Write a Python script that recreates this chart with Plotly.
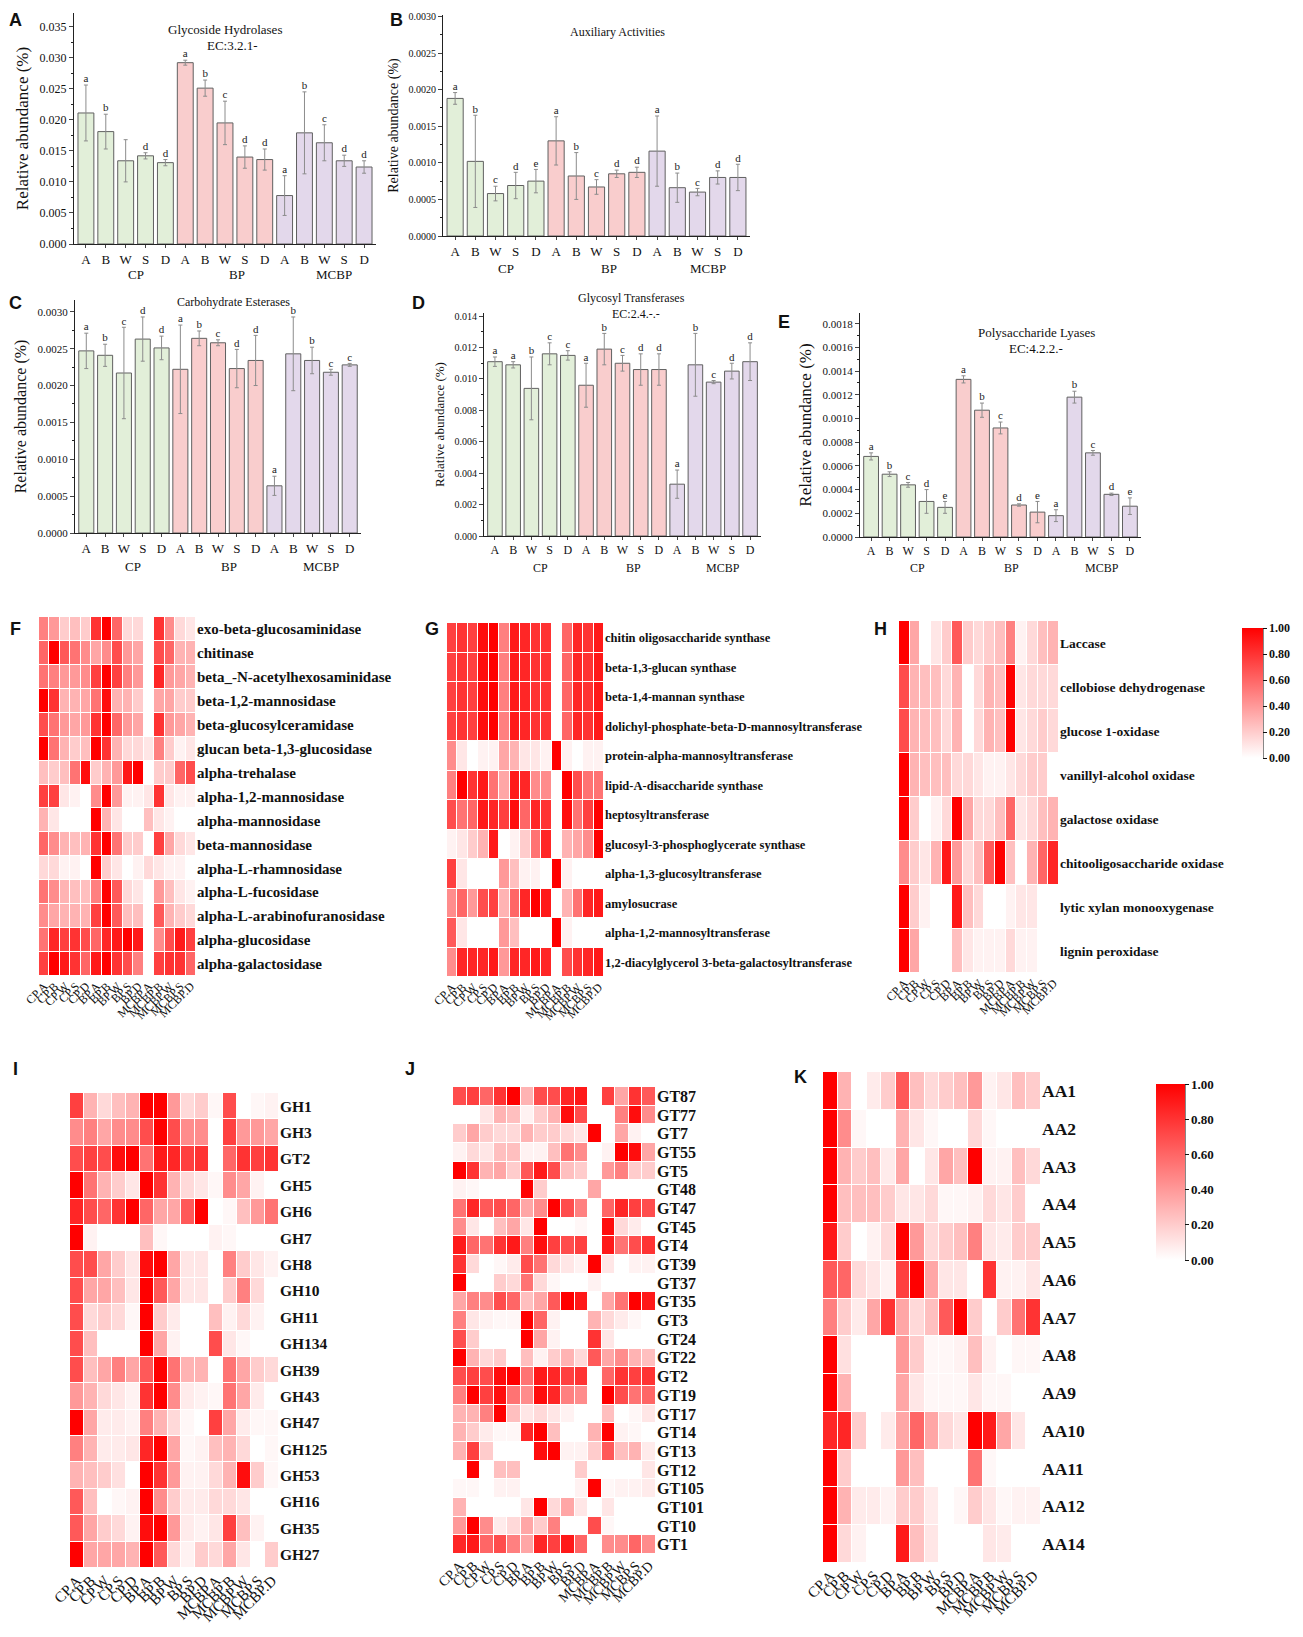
import plotly.graph_objects as go

W, H = 1303, 1637
OFF = 8  # the page body adds an 8 px margin around the figure
SERIF = "Liberation Serif, Times New Roman, serif"
SANS = "Liberation Sans, Arial, sans-serif"

# ---------------- bar chart data ----------------
samples = ["A", "B", "W", "S", "D"] * 3
groups = ["CP", "BP", "MCBP"]
group_pos = [2.5, 7.6, 12.5]
bar_colors = ["#e2efd9"] * 5 + ["#f9cdcd"] * 5 + ["#e3d8eb"] * 5

gh_mean = [0.0211, 0.0181, 0.0134, 0.0142, 0.0131, 0.0292, 0.0251, 0.0195, 0.0140, 0.0136,
           0.0078, 0.0179, 0.0163, 0.0134, 0.0124]
gh_err = [0.0045, 0.0028, 0.0034, 0.0005, 0.0005, 0.0004, 0.0013, 0.0035, 0.0018, 0.0017,
          0.0032, 0.0066, 0.0029, 0.0009, 0.0010]
gh_sig = ["a", "b", "", "d", "d", "a", "b", "c", "d", "d", "a", "b", "c", "d", "d"]

aa_mean = [0.00188, 0.00102, 0.00058, 0.00069, 0.00075, 0.00130, 0.00082, 0.00067, 0.00085, 0.00087,
           0.00116, 0.00066, 0.00060, 0.00080, 0.00080]
aa_err = [0.00008, 0.00063, 0.00010, 0.00018, 0.00016, 0.00033, 0.00032, 0.00010, 0.00005, 0.00007,
          0.00048, 0.00020, 0.00005, 0.00009, 0.00018]
aa_sig = ["a", "b", "c", "d", "e", "a", "b", "c", "d", "d", "a", "b", "c", "d", "d"]

ce_mean = [0.00247, 0.00241, 0.00217, 0.00263, 0.00251, 0.00222, 0.00264, 0.00258, 0.00223, 0.00234,
           0.00064, 0.00243, 0.00234, 0.00218, 0.00228]
ce_err = [0.00024, 0.00015, 0.00062, 0.00030, 0.00016, 0.00060, 0.00010, 0.00004, 0.00026, 0.00034,
          0.00013, 0.00050, 0.00018, 0.00004, 0.00002]
ce_sig = ["a", "b", "c", "d", "d", "a", "b", "c", "d", "d", "a", "b", "b", "c", "c"]

gt_mean = [0.0111, 0.0109, 0.0094, 0.0116, 0.0115, 0.0096, 0.0119, 0.0110, 0.0106, 0.0106,
           0.0033, 0.0109, 0.0098, 0.0105, 0.0111]
gt_err = [0.0003, 0.0002, 0.0020, 0.0007, 0.0003, 0.0014, 0.0010, 0.0005, 0.0010, 0.0010,
          0.0009, 0.0020, 0.0001, 0.0005, 0.0012]
gt_sig = ["a", "a", "b", "c", "c", "a", "b", "c", "d", "d", "a", "b", "c", "d", "d"]

pl_mean = [0.00068, 0.00053, 0.00044, 0.00030, 0.00025, 0.00133, 0.00107, 0.00092, 0.00027, 0.00021,
           0.00018, 0.00118, 0.00071, 0.00036, 0.00026]
pl_err = [0.00003, 0.00002, 0.00002, 0.00010, 0.00005, 0.00003, 0.00006, 0.00005, 0.00001, 0.00009,
          0.00005, 0.00005, 0.00002, 0.00001, 0.00007]
pl_sig = ["a", "b", "c", "d", "e", "a", "b", "c", "d", "e", "a", "b", "c", "d", "e"]

# ---------------- heatmap data ----------------
cols = ["CP.A", "CP.B", "CP.W", "CP.S", "CP.D", "BP.A", "BP.B", "BP.W", "BP.S", "BP.D",
        "MCBP.A", "MCBP.B", "MCBP.W", "MCBP.S", "MCBP.D"]

f_rows = ["exo-beta-glucosaminidase", "chitinase", "beta_-N-acetylhexosaminidase", "beta-1,2-mannosidase",
          "beta-glucosylceramidase", "glucan beta-1,3-glucosidase", "alpha-trehalase", "alpha-1,2-mannosidase",
          "alpha-mannosidase", "beta-mannosidase", "alpha-L-rhamnosidase", "alpha-L-fucosidase",
          "alpha-L-arabinofuranosidase", "alpha-glucosidase", "alpha-galactosidase"]
f_z = [
    [0.5, 0.4, 0.2, 0.25, 0.2, 0.8, 1.0, 0.6, 0.15, 0.15, 0.0, 0.8, 0.45, 0.15, 0.1],
    [0.6, 1.0, 0.65, 0.55, 0.45, 0.35, 0.45, 0.7, 0.4, 0.35, 0.0, 0.7, 0.6, 0.3, 0.3],
    [0.55, 0.5, 0.4, 0.4, 0.45, 0.75, 1.0, 0.75, 0.5, 0.4, 0.0, 0.85, 0.4, 0.35, 0.3],
    [1.0, 0.8, 0.3, 0.3, 0.35, 0.55, 0.95, 0.3, 0.3, 0.2, 0.0, 0.35, 0.35, 0.2, 0.2],
    [0.7, 0.55, 0.4, 0.35, 0.4, 0.8, 1.0, 0.6, 0.4, 0.35, 0.0, 0.8, 0.4, 0.35, 0.3],
    [1.0, 0.55, 0.3, 0.2, 0.25, 1.0, 0.8, 0.3, 0.15, 0.15, 0.1, 0.5, 0.2, 0.05, 0.1],
    [0.25, 0.2, 0.25, 0.55, 0.95, 0.2, 0.3, 0.4, 0.9, 1.0, 0.0, 0.2, 0.2, 0.6, 0.7],
    [0.75, 0.75, 0.1, 0.05, 0.0, 0.45, 1.0, 0.4, 0.05, 0.05, 0.1, 0.8, 0.1, 0.05, 0.05],
    [0.3, 0.1, 0.0, 0.0, 0.0, 1.0, 0.3, 0.1, 0.0, 0.0, 0.25, 0.1, 0.05, 0.0, 0.0],
    [0.6, 0.45, 0.3, 0.25, 0.3, 0.8, 1.0, 0.55, 0.2, 0.2, 0.0, 0.75, 0.35, 0.15, 0.1],
    [0.15, 0.15, 0.05, 0.05, 0.0, 1.0, 0.2, 0.1, 0.0, 0.05, 0.15, 0.1, 0.05, 0.05, 0.0],
    [0.55, 0.45, 0.3, 0.25, 0.25, 0.5, 1.0, 0.65, 0.15, 0.1, 0.0, 0.4, 0.25, 0.1, 0.05],
    [0.45, 0.35, 0.3, 0.3, 0.3, 0.75, 1.0, 0.65, 0.25, 0.25, 0.0, 0.65, 0.3, 0.2, 0.15],
    [0.55, 0.85, 0.75, 0.8, 0.7, 0.6, 0.85, 0.9, 1.0, 0.9, 0.0, 0.45, 0.7, 0.9, 0.75],
    [0.75, 1.0, 0.9, 0.8, 0.6, 0.9, 1.0, 0.8, 0.7, 0.5, 0.0, 0.75, 0.8, 0.8, 0.6],
]

g_rows = ["chitin oligosaccharide synthase", "beta-1,3-glucan synthase", "beta-1,4-mannan synthase",
          "dolichyl-phosphate-beta-D-mannosyltransferase", "protein-alpha-mannosyltransferase",
          "lipid-A-disaccharide synthase", "heptosyltransferase", "glucosyl-3-phosphoglycerate synthase",
          "alpha-1,3-glucosyltransferase", "amylosucrase", "alpha-1,2-mannosyltransferase",
          "1,2-diacylglycerol 3-beta-galactosyltransferase"]
g_z = [
    [0.75, 0.8, 0.75, 0.95, 1.0, 0.5, 0.9, 0.85, 0.8, 0.8, 0.0, 0.6, 0.85, 0.8, 0.9],
    [0.75, 0.8, 0.75, 0.95, 1.0, 0.5, 0.9, 0.85, 0.8, 0.8, 0.0, 0.6, 0.85, 0.8, 0.9],
    [0.75, 0.8, 0.75, 0.95, 1.0, 0.5, 0.9, 0.85, 0.8, 0.8, 0.0, 0.6, 0.85, 0.8, 0.9],
    [0.75, 0.8, 0.75, 0.95, 1.0, 0.5, 0.9, 0.85, 0.8, 0.8, 0.0, 0.6, 0.85, 0.8, 0.9],
    [0.45, 0.1, 0.0, 0.05, 0.05, 0.35, 0.3, 0.1, 0.1, 0.05, 1.0, 0.05, 0.0, 0.05, 0.05],
    [0.5, 1.0, 0.8, 0.9, 0.55, 0.35, 0.9, 0.85, 0.45, 0.45, 0.0, 1.0, 0.7, 0.55, 0.55],
    [0.7, 0.55, 0.6, 0.9, 0.85, 0.75, 0.95, 0.6, 0.85, 0.8, 0.0, 0.95, 0.55, 0.75, 1.0],
    [0.05, 0.1, 0.2, 0.3, 0.9, 0.0, 0.05, 0.2, 0.55, 0.85, 0.0, 0.3, 0.35, 0.45, 1.0],
    [0.75, 0.1, 0.0, 0.0, 0.0, 0.4, 0.25, 0.05, 0.05, 0.0, 1.0, 0.05, 0.0, 0.0, 0.0],
    [0.45, 0.6, 0.4, 0.7, 0.75, 0.3, 0.6, 0.85, 1.0, 0.9, 0.0, 0.3, 0.55, 0.85, 0.9],
    [0.65, 0.1, 0.0, 0.0, 0.0, 0.4, 0.25, 0.0, 0.0, 0.0, 1.0, 0.05, 0.0, 0.0, 0.0],
    [0.45, 0.85, 0.85, 0.85, 0.9, 0.4, 0.85, 0.85, 0.9, 0.85, 0.0, 0.7, 0.8, 0.85, 0.9],
]

h_rows = ["Laccase", "cellobiose dehydrogenase", "glucose 1-oxidase", "vanillyl-alcohol oxidase",
          "galactose oxidase", "chitooligosaccharide oxidase", "lytic xylan monooxygenase", "lignin peroxidase"]
h_z = [
    [1.0, 0.35, 0.0, 0.1, 0.2, 0.65, 0.2, 0.15, 0.2, 0.25, 0.5, 0.05, 0.15, 0.25, 0.3],
    [0.7, 0.3, 0.25, 0.25, 0.15, 0.3, 0.0, 0.15, 0.3, 0.25, 1.0, 0.1, 0.15, 0.15, 0.15],
    [0.7, 0.3, 0.25, 0.25, 0.15, 0.3, 0.0, 0.15, 0.3, 0.25, 1.0, 0.1, 0.15, 0.2, 0.15],
    [1.0, 0.3, 0.25, 0.25, 0.25, 0.15, 0.15, 0.1, 0.05, 0.05, 0.1, 0.15, 0.2, 0.2, 0.0],
    [1.0, 0.2, 0.0, 0.05, 0.15, 1.0, 0.35, 0.15, 0.15, 0.25, 0.6, 0.1, 0.15, 0.25, 0.3],
    [0.45, 0.2, 0.1, 0.3, 0.9, 0.4, 0.15, 0.25, 0.65, 1.0, 0.25, 0.0, 0.3, 0.6, 0.85],
    [1.0, 0.2, 0.05, 0.0, 0.0, 0.9, 0.25, 0.15, 0.0, 0.0, 0.05, 0.1, 0.1, 0.0, 0.0],
    [1.0, 0.35, 0.0, 0.0, 0.0, 0.25, 0.1, 0.05, 0.05, 0.05, 0.15, 0.05, 0.05, 0.0, 0.0],
]

i_rows = ["GH1", "GH3", "GT2", "GH5", "GH6", "GH7", "GH8", "GH10", "GH11", "GH134", "GH39", "GH43",
          "GH47", "GH125", "GH53", "GH16", "GH35", "GH27"]
i_z = [
    [0.75, 0.3, 0.15, 0.25, 0.3, 1.0, 1.0, 0.4, 0.15, 0.2, 0.03, 0.7, 0.0, 0.03, 0.05],
    [0.45, 0.5, 0.35, 0.45, 0.45, 0.7, 1.0, 0.7, 0.45, 0.45, 0.0, 0.75, 0.4, 0.4, 0.35],
    [0.7, 0.75, 0.7, 0.95, 1.0, 0.55, 0.9, 0.85, 0.75, 0.8, 0.0, 0.6, 0.8, 0.75, 0.8],
    [1.0, 0.55, 0.3, 0.2, 0.1, 1.0, 0.8, 0.3, 0.15, 0.1, 0.03, 0.45, 0.35, 0.05, 0.0],
    [0.85, 0.7, 0.6, 0.8, 1.0, 0.6, 0.35, 0.35, 0.65, 1.0, 0.0, 0.03, 0.25, 0.4, 0.55],
    [1.0, 0.05, 0.0, 0.0, 0.0, 0.25, 0.03, 0.0, 0.0, 0.0, 0.05, 0.03, 0.0, 0.0, 0.0],
    [0.7, 0.7, 0.35, 0.2, 0.1, 0.95, 1.0, 0.35, 0.1, 0.1, 0.0, 0.5, 0.2, 0.1, 0.05],
    [0.7, 0.35, 0.35, 0.25, 0.1, 1.0, 0.65, 0.35, 0.1, 0.1, 0.0, 0.2, 0.5, 0.15, 0.0],
    [0.7, 0.15, 0.2, 0.15, 0.03, 1.0, 0.2, 0.08, 0.0, 0.0, 0.25, 0.05, 0.15, 0.05, 0.0],
    [0.7, 0.25, 0.0, 0.0, 0.0, 1.0, 0.35, 0.05, 0.0, 0.0, 0.7, 0.1, 0.03, 0.0, 0.0],
    [0.7, 0.25, 0.35, 0.5, 0.35, 0.65, 1.0, 0.55, 0.3, 0.3, 0.0, 0.55, 0.35, 0.2, 0.15],
    [0.4, 0.3, 0.15, 0.1, 0.05, 0.8, 1.0, 0.45, 0.08, 0.05, 0.03, 0.55, 0.35, 0.08, 0.0],
    [1.0, 0.35, 0.08, 0.08, 0.05, 0.5, 0.3, 0.15, 0.03, 0.0, 0.75, 0.35, 0.08, 0.03, 0.03],
    [0.5, 0.3, 0.08, 0.08, 0.1, 0.85, 1.0, 0.35, 0.03, 0.05, 0.25, 0.3, 0.15, 0.0, 0.03],
    [0.3, 0.25, 0.2, 0.12, 0.0, 1.0, 0.8, 0.4, 0.05, 0.05, 0.15, 0.3, 0.95, 0.2, 0.03],
    [0.65, 0.25, 0.0, 0.03, 0.05, 1.0, 0.45, 0.2, 0.08, 0.08, 0.15, 0.15, 0.1, 0.0, 0.0],
    [0.65, 0.35, 0.2, 0.15, 0.05, 0.95, 1.0, 0.4, 0.08, 0.05, 0.1, 0.75, 0.25, 0.05, 0.0],
    [1.0, 0.35, 0.35, 0.35, 0.3, 1.0, 0.65, 0.15, 0.05, 0.2, 0.15, 0.35, 0.1, 0.0, 0.2],
]

j_rows = ["GT87", "GT77", "GT7", "GT55", "GT5", "GT48", "GT47", "GT45", "GT4", "GT39", "GT37", "GT35",
          "GT3", "GT24", "GT22", "GT2", "GT19", "GT17", "GT14", "GT13", "GT12", "GT105", "GT101", "GT10", "GT1"]
j_z = [
    [0.7, 0.75, 0.6, 0.8, 1.0, 0.3, 0.7, 0.7, 0.85, 0.9, 0.0, 0.75, 0.35, 0.8, 0.65],
    [0.0, 0.0, 0.1, 0.3, 0.25, 0.05, 0.2, 0.3, 0.95, 0.7, 0.0, 0.0, 0.5, 0.95, 0.45],
    [0.2, 0.35, 0.2, 0.15, 0.15, 0.3, 0.2, 0.2, 0.15, 0.1, 1.0, 0.0, 0.35, 0.05, 0.0],
    [0.05, 0.15, 0.1, 0.25, 0.25, 0.05, 0.05, 0.25, 0.55, 0.45, 0.0, 0.05, 1.0, 0.95, 0.35],
    [1.0, 0.8, 0.3, 0.35, 0.2, 0.65, 0.9, 0.7, 0.25, 0.2, 0.0, 0.4, 0.5, 0.2, 0.2],
    [0.05, 0.03, 0.0, 0.0, 0.0, 1.0, 0.2, 0.0, 0.0, 0.0, 0.35, 0.0, 0.0, 0.0, 0.0],
    [0.55, 0.85, 0.65, 0.7, 0.6, 0.35, 0.45, 1.0, 0.7, 0.5, 0.0, 0.6, 0.85, 0.75, 0.7],
    [0.45, 0.1, 0.0, 0.25, 0.35, 0.1, 1.0, 0.0, 0.0, 0.03, 0.0, 0.95, 0.15, 0.08, 0.0],
    [0.9, 0.6, 0.55, 0.8, 0.9, 0.5, 0.95, 0.75, 0.7, 0.75, 0.0, 0.9, 0.55, 0.7, 0.8],
    [0.8, 0.15, 0.0, 0.03, 0.08, 0.7, 0.55, 0.15, 0.1, 0.05, 1.0, 0.1, 0.0, 0.05, 0.05],
    [1.0, 0.0, 0.0, 0.2, 0.15, 0.55, 0.15, 0.03, 0.0, 0.0, 0.05, 0.0, 0.0, 0.0, 0.0],
    [0.35, 0.5, 0.45, 0.7, 0.6, 0.25, 0.35, 0.65, 1.0, 0.9, 0.0, 0.35, 0.55, 1.0, 0.9],
    [0.5, 0.1, 0.05, 0.03, 0.03, 1.0, 0.6, 0.05, 0.0, 0.0, 0.3, 0.15, 0.08, 0.03, 0.0],
    [0.7, 0.2, 0.0, 0.0, 0.0, 1.0, 0.35, 0.05, 0.0, 0.0, 0.8, 0.1, 0.0, 0.0, 0.0],
    [1.0, 0.3, 0.15, 0.2, 0.0, 0.25, 0.05, 0.2, 0.3, 0.15, 0.65, 0.35, 0.45, 0.3, 0.25],
    [0.7, 0.75, 0.7, 0.95, 1.0, 0.55, 0.9, 0.85, 0.75, 0.8, 0.0, 0.6, 0.8, 0.75, 0.8],
    [0.5, 1.0, 0.75, 0.95, 0.55, 0.45, 0.95, 0.85, 0.5, 0.45, 0.0, 1.0, 0.7, 0.55, 0.6],
    [0.3, 0.3, 0.5, 1.0, 0.25, 0.1, 0.15, 0.1, 0.05, 0.0, 0.0, 0.25, 0.0, 0.03, 0.1],
    [0.3, 0.2, 0.08, 0.03, 0.03, 0.85, 1.0, 0.25, 0.0, 0.0, 0.3, 1.0, 0.05, 0.03, 0.0],
    [0.3, 0.75, 0.2, 0.0, 0.0, 0.0, 0.95, 1.0, 0.05, 0.05, 0.2, 0.65, 0.25, 0.3, 0.08],
    [0.0, 1.0, 0.0, 0.25, 0.25, 0.0, 0.0, 0.0, 0.0, 0.2, 0.0, 0.0, 0.0, 0.0, 0.1],
    [0.03, 0.03, 0.0, 0.05, 0.05, 0.0, 0.0, 0.0, 0.0, 0.05, 1.0, 0.03, 0.05, 0.05, 0.08],
    [0.3, 0.0, 0.0, 0.0, 0.0, 0.1, 1.0, 0.15, 0.35, 0.1, 0.0, 0.1, 0.0, 0.0, 0.0],
    [0.4, 1.0, 0.45, 0.08, 0.15, 0.35, 0.2, 0.5, 0.0, 0.0, 0.7, 0.03, 0.0, 0.0, 0.0],
    [0.85, 0.9, 0.6, 0.7, 0.5, 0.35, 0.85, 0.75, 0.9, 0.6, 0.0, 0.45, 0.45, 0.6, 0.45],
]

k_rows = ["AA1", "AA2", "AA3", "AA4", "AA5", "AA6", "AA7", "AA8", "AA9", "AA10", "AA11", "AA12", "AA14"]
k_z = [
    [1.0, 0.3, 0.0, 0.08, 0.2, 0.65, 0.25, 0.15, 0.2, 0.25, 0.4, 0.05, 0.1, 0.25, 0.2],
    [1.0, 0.45, 0.03, 0.0, 0.0, 0.3, 0.1, 0.03, 0.0, 0.0, 0.15, 0.03, 0.0, 0.0, 0.0],
    [1.0, 0.3, 0.2, 0.25, 0.08, 0.35, 0.0, 0.1, 0.35, 0.25, 1.0, 0.05, 0.05, 0.25, 0.15],
    [1.0, 0.25, 0.25, 0.25, 0.2, 0.1, 0.1, 0.15, 0.03, 0.03, 0.05, 0.15, 0.1, 0.2, 0.0],
    [0.9, 0.2, 0.0, 0.05, 0.15, 1.0, 0.4, 0.15, 0.2, 0.25, 0.5, 0.1, 0.08, 0.2, 0.2],
    [0.65, 0.6, 0.15, 0.1, 0.05, 0.75, 1.0, 0.35, 0.1, 0.1, 0.0, 0.8, 0.05, 0.05, 0.1],
    [0.5, 0.2, 0.08, 0.35, 0.8, 0.35, 0.15, 0.25, 0.65, 1.0, 0.2, 0.0, 0.2, 0.55, 0.8],
    [1.0, 0.12, 0.0, 0.0, 0.0, 0.4, 0.2, 0.03, 0.03, 0.05, 0.25, 0.05, 0.0, 0.03, 0.03],
    [1.0, 0.3, 0.0, 0.0, 0.0, 0.35, 0.1, 0.03, 0.03, 0.03, 0.1, 0.03, 0.03, 0.0, 0.0],
    [0.85, 0.85, 0.2, 0.0, 0.08, 0.35, 0.6, 0.35, 0.15, 0.1, 1.0, 0.9, 0.35, 0.1, 0.0],
    [1.0, 0.2, 0.0, 0.0, 0.0, 0.4, 0.25, 0.0, 0.0, 0.0, 0.55, 0.03, 0.0, 0.0, 0.0],
    [1.0, 0.3, 0.08, 0.08, 0.05, 0.2, 0.2, 0.08, 0.0, 0.03, 0.2, 0.1, 0.03, 0.05, 0.05],
    [1.0, 0.15, 0.05, 0.0, 0.0, 0.9, 0.25, 0.1, 0.0, 0.0, 0.0, 0.1, 0.08, 0.0, 0.0],
]

cbar_vals = [0, 0.2, 0.4, 0.6, 0.8, 1.0]
cbar_text = ["0.00", "0.20", "0.40", "0.60", "0.80", "1.00"]


def fx(px):
    return (px - OFF) / W


def fy(py):
    return 1 - (py - OFF) / H


def label(text, px, py, size, family=SERIF, xref="paper"):
    x = fx(px) if xref == "paper" else px
    return dict(x=x, y=fy(py), xref=xref, yref="paper", text=text, showarrow=False,
                xanchor="center", yanchor="middle", font=dict(family=family, size=size, color="#111"))


fig = go.Figure()
layout = {}
notes = []
shapes = []

# bar panels: means, errs, letters, axis box (px), y max, tick step, format, font sizes, group label y
bar_panels = [
    (gh_mean, gh_err, gh_sig, 74, 376, 13, 244, 0.0372, 0.005, ".3f", 17, 12, 13, 275),
    (aa_mean, aa_err, aa_sig, 443, 750, 15, 236, 0.00302, 0.0005, ".4f", 14, 10, 13, 268),
    (ce_mean, ce_err, ce_sig, 75, 361, 300, 533, 0.00316, 0.0005, ".4f", 16, 11, 13, 566),
    (gt_mean, gt_err, gt_sig, 484, 761, 313, 536, 0.0142, 0.002, ".3f", 13, 10, 12, 568),
    (pl_mean, pl_err, pl_sig, 860, 1141, 313, 537, 0.00189, 0.0002, ".4f", 17, 11, 12, 568),
]

for n, p in enumerate(bar_panels, start=1):
    mean, err, sig, x0, x1, yt, yb, ymax, dtick, fmt, lsize, ticksize, xsize, gy = p
    xa, ya = "x%d" % n, "y%d" % n
    pos = list(range(len(mean)))
    fig.add_trace(go.Bar(
        x=pos, y=mean, width=0.8, xaxis=xa, yaxis=ya,
        marker=dict(color=bar_colors, line=dict(color="#606060", width=1)),
        error_y=dict(type="data", array=err, color="#8c8c8c", thickness=1, width=2),
        showlegend=False, hoverinfo="skip",
    ))
    fig.add_trace(go.Scatter(
        x=pos, y=[m + e for m, e in zip(mean, err)], text=sig, mode="text",
        textposition="top center", textfont=dict(family=SERIF, size=11, color="#222"),
        xaxis=xa, yaxis=ya, showlegend=False, hoverinfo="skip", cliponaxis=False,
    ))
    layout["xaxis%d" % n] = dict(
        domain=[fx(x0), fx(x1)], anchor=ya, range=[-0.6, 14.6],
        tickmode="array", tickvals=pos, ticktext=samples,
        showline=True, linecolor="#222", linewidth=1, ticks="outside", ticklen=3,
        tickfont=dict(family=SERIF, size=xsize, color="#111"),
        showgrid=False, zeroline=False, fixedrange=True,
    )
    layout["yaxis%d" % n] = dict(
        domain=[fy(yb), fy(yt)], anchor=xa, range=[0, ymax], dtick=dtick, tickformat=fmt,
        showline=True, linecolor="#222", linewidth=1, ticks="outside", ticklen=4,
        minor=dict(dtick=dtick / 2, ticks="outside", ticklen=2, tickcolor="#222"),
        tickfont=dict(family=SERIF, size=ticksize, color="#111"),
        title=dict(text="Relative abundance (%)", font=dict(family=SERIF, size=lsize, color="#111"),
                   standoff=6),
        showgrid=False, zeroline=False, fixedrange=True,
    )
    for g, gp in zip(groups, group_pos):
        notes.append(label(g, gp, gy, xsize, xref=xa))

# panel titles
for text, px, py, size in [("Glycoside Hydrolases", 225, 29, 13), ("EC:3.2.1-", 232, 46, 13),
                           ("Auxiliary Activities", 617, 32, 12),
                           ("Carbohydrate Esterases", 233, 302, 12),
                           ("Glycosyl Transferases", 631, 298, 12), ("EC:2.4.-.-", 636, 314, 12),
                           ("Polysaccharide Lyases", 1036, 333, 13), ("EC:4.2.2.-", 1036, 349, 13)]:
    notes.append(label(text, px, py, size))

# heatmap panels: z, rows, cell box (px), row label size, column label size, colour axis
heat_panels = [
    (f_z, f_rows, 39, 196, 617, 976, 15, 12, "coloraxis"),
    (g_z, g_rows, 447, 604, 623, 977, 12.5, 12, "coloraxis"),
    (h_z, h_rows, 899, 1059, 621, 973, 13.5, 12, "coloraxis"),
    (i_z, i_rows, 70, 279, 1093, 1568, 15.5, 15, "coloraxis2"),
    (j_z, j_rows, 453, 656, 1087, 1554, 16, 14, "coloraxis2"),
    (k_z, k_rows, 823, 1041, 1072, 1563, 17.5, 15, "coloraxis2"),
]

for n, p in enumerate(heat_panels, start=6):
    z, rows, x0, x1, yt, yb, rsize, csize, cax = p
    xa, ya = "x%d" % n, "y%d" % n
    fig.add_trace(go.Heatmap(
        z=z, x=cols, y=rows, coloraxis=cax, xgap=1, ygap=1,
        xaxis=xa, yaxis=ya, hoverinfo="skip",
    ))
    layout["xaxis%d" % n] = dict(
        domain=[fx(x0), fx(x1)], anchor=ya, type="category",
        tickmode="array", tickvals=cols, ticktext=cols, tickangle=-45,
        tickfont=dict(family=SERIF, size=csize, color="#111"),
        showgrid=False, zeroline=False, showline=False, ticks="", fixedrange=True,
    )
    layout["yaxis%d" % n] = dict(
        domain=[fy(yb), fy(yt)], anchor=xa, type="category", side="right",
        autorange="reversed", tickmode="array", tickvals=rows, ticktext=rows,
        tickfont=dict(family=SERIF, size=rsize, color="#111", weight="bold"),
        showgrid=False, zeroline=False, showline=False, ticks="", fixedrange=True,
    )


def colorbar(x0, ytop, length, thick, size):
    return dict(
        x=fx(x0), xanchor="left", y=fy(ytop), yanchor="top", xpad=0, ypad=0,
        len=length, lenmode="pixels", thickness=thick, thicknessmode="pixels",
        tickmode="array", tickvals=cbar_vals, ticktext=cbar_text,
        ticks="outside", ticklen=4, tickcolor="#111", outlinewidth=0,
        tickfont=dict(family=SERIF, size=size, color="#111", weight="bold"),
    )


redscale = [[0, "#ffffff"], [1, "#ff0000"]]
layout["coloraxis"] = dict(cmin=0, cmax=1, colorscale=redscale, colorbar=colorbar(1242, 628, 130, 21, 12))
layout["coloraxis2"] = dict(cmin=0, cmax=1, colorscale=redscale, colorbar=colorbar(1156, 1084, 176, 29, 13))

# bracket line on the right of each colorbar
for cx, cy0, cy1 in [(1263, 628, 758), (1185, 1084, 1260)]:
    shapes.append(dict(type="line", xref="paper", yref="paper", x0=fx(cx), x1=fx(cx),
                       y0=fy(cy0), y1=fy(cy1), line=dict(color="#111", width=1)))

# panel letters
for letter, px, py in [("A", 15, 20), ("B", 396, 20), ("C", 15, 303), ("D", 418, 303), ("E", 784, 322),
                       ("F", 15, 629), ("G", 432, 629), ("H", 880, 629),
                       ("I", 15, 1069), ("J", 410, 1069), ("K", 800, 1077)]:
    notes.append(label("<b>%s</b>" % letter, px, py, 18, family=SANS))

fig.update_layout(
    width=W, height=H, autosize=False,
    margin=dict(l=0, r=0, t=0, b=0, autoexpand=False),
    paper_bgcolor="white", plot_bgcolor="white",
    bargap=0.2, annotations=notes, shapes=shapes,
    **layout,
)

fig.write_html("out.html")
